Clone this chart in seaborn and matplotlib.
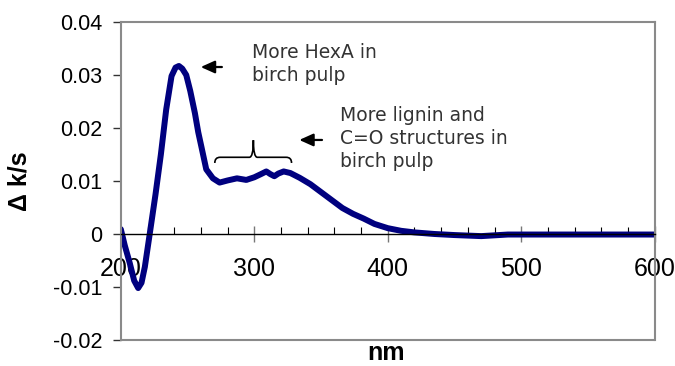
import matplotlib
matplotlib.use('Agg')
import matplotlib.pyplot as plt
import seaborn as sns
import pandas as pd
from matplotlib.path import Path
from matplotlib.patches import PathPatch, FancyArrowPatch

# data
nm = [200, 203, 206.7, 210, 213, 215.5, 218, 221.7, 226, 230, 234, 238, 241,
      243.5, 246, 249, 252, 255.5, 258, 260.5, 264, 269, 274, 280, 287, 294,
      300, 305, 309, 312, 315, 318, 322, 327, 334, 342, 350, 358, 366, 374,
      382, 390, 400, 410, 420, 435, 450, 470, 490, 520, 550, 580, 600]
dks = [0.0009, -0.0022, -0.0055, -0.0088, -0.0102, -0.0092, -0.0062, 0.0001,
       0.0075, 0.0150, 0.0235, 0.0298, 0.0314, 0.0317, 0.0312, 0.0300, 0.0270,
       0.0228, 0.0192, 0.0163, 0.0122, 0.0105, 0.0097, 0.0101, 0.0105, 0.0102,
       0.0107, 0.0113, 0.0118, 0.0113, 0.0109, 0.0114, 0.0118, 0.0115, 0.0106,
       0.0094, 0.0079, 0.0064, 0.0049, 0.0038, 0.0029, 0.0019, 0.0011, 0.0006,
       0.0003, 0.0000, -0.0002, -0.0004, -0.0001, -0.0001, -0.0001, -0.0001,
       -0.0001]
df = pd.DataFrame({'nm': nm, 'dks': dks})

yticks = [-0.02, -0.01, 0, 0.01, 0.02, 0.03, 0.04]
ylabels = ['-0.02', '-0.01', '0', '0.01', '0.02', '0.03', '0.04']
xticks = [200, 300, 400, 500, 600]

sns.set_style('white')
plt.rcParams['font.family'] = ['Liberation Sans', 'DejaVu Sans']
plt.rcParams['text.color'] = 'black'
plt.rcParams['axes.labelcolor'] = 'black'

fig, ax = plt.subplots(figsize=(6.75, 3.66), dpi=100)
fig.subplots_adjust(left=0.179, right=0.970, top=0.940, bottom=0.071)

sns.lineplot(data=df, x='nm', y='dks', color='#00007f', linewidth=4.3, ax=ax)

ax.set_xlim(200, 600)
ax.set_ylim(-0.02, 0.04)

# frame: gray box, black zero axis with ticks
for s in ['left', 'top', 'right']:
    ax.spines[s].set_color('#8a8a8a')
    ax.spines[s].set_linewidth(1.5)
ax.spines['bottom'].set_position(('data', 0))
ax.spines['bottom'].set_color('black')
ax.spines['bottom'].set_linewidth(1.0)
ax.axhline(-0.02, color='#8a8a8a', lw=1.5, clip_on=False)

ax.set_yticks(yticks, ylabels)
ax.set_xticks(xticks)
ax.set_xticks(range(200, 601, 20), minor=True)
ax.tick_params(axis='y', left=True, direction='out', length=5.5, width=1,
               color='#333333', labelcolor='black', labelsize=15.5, pad=8)
ax.tick_params(axis='x', which='major', bottom=True, direction='inout', length=11,
               width=1, color='#777777', labelcolor='black', labelsize=18, pad=11)
ax.tick_params(axis='x', which='minor', bottom=True, direction='in', length=5,
               width=0.8, color='black')

ax.set_xlabel('nm', fontsize=18, fontweight='bold')
ax.set_ylabel('Δ k/s', fontsize=18, fontweight='bold')
ax.xaxis.set_label_coords(0.497, -0.002)
ax.yaxis.set_label_coords(-0.167, 0.5)

# annotations
note_kw = dict(fontsize=13.5, color='#333333', family='DejaVu Sans', va='top',
               ha='left', linespacing=1.27)
ax.text(298.1, 0.0360, 'More HexA in\nbirch pulp', **note_kw)
ax.text(364.0, 0.02415, 'More lignin and\nC=O structures in\nbirch pulp', **note_kw)

arrow_style = '-|>,head_length=0.6,head_width=0.27'
for x0, x1, y in [(277.8, 257.8, 0.0315), (352.8, 331.6, 0.01774)]:
    ax.add_patch(FancyArrowPatch((x0, y), (x1, y), arrowstyle=arrow_style,
                                 mutation_scale=14, color='black', lw=1.6))

# curly brace over 270-328 nm
bl, br, yb, ym, yt = 270.4, 327.9, 0.0134, 0.01447, 0.0177
bm = 299.3
verts = [(bl, yb), (bl, ym), (bl + 4, ym),
         (bm - 3, ym), (bm, ym), (bm, yt),
         (bm, ym), (bm + 3, ym),
         (br - 4, ym), (br, ym), (br, yb)]
codes = [Path.MOVETO, Path.CURVE3, Path.CURVE3,
         Path.LINETO, Path.CURVE3, Path.CURVE3,
         Path.CURVE3, Path.CURVE3,
         Path.LINETO, Path.CURVE3, Path.CURVE3]
ax.add_patch(PathPatch(Path(verts, codes), fill=False, lw=1.2, color='black'))

plt.savefig('out.png', dpi=100)
